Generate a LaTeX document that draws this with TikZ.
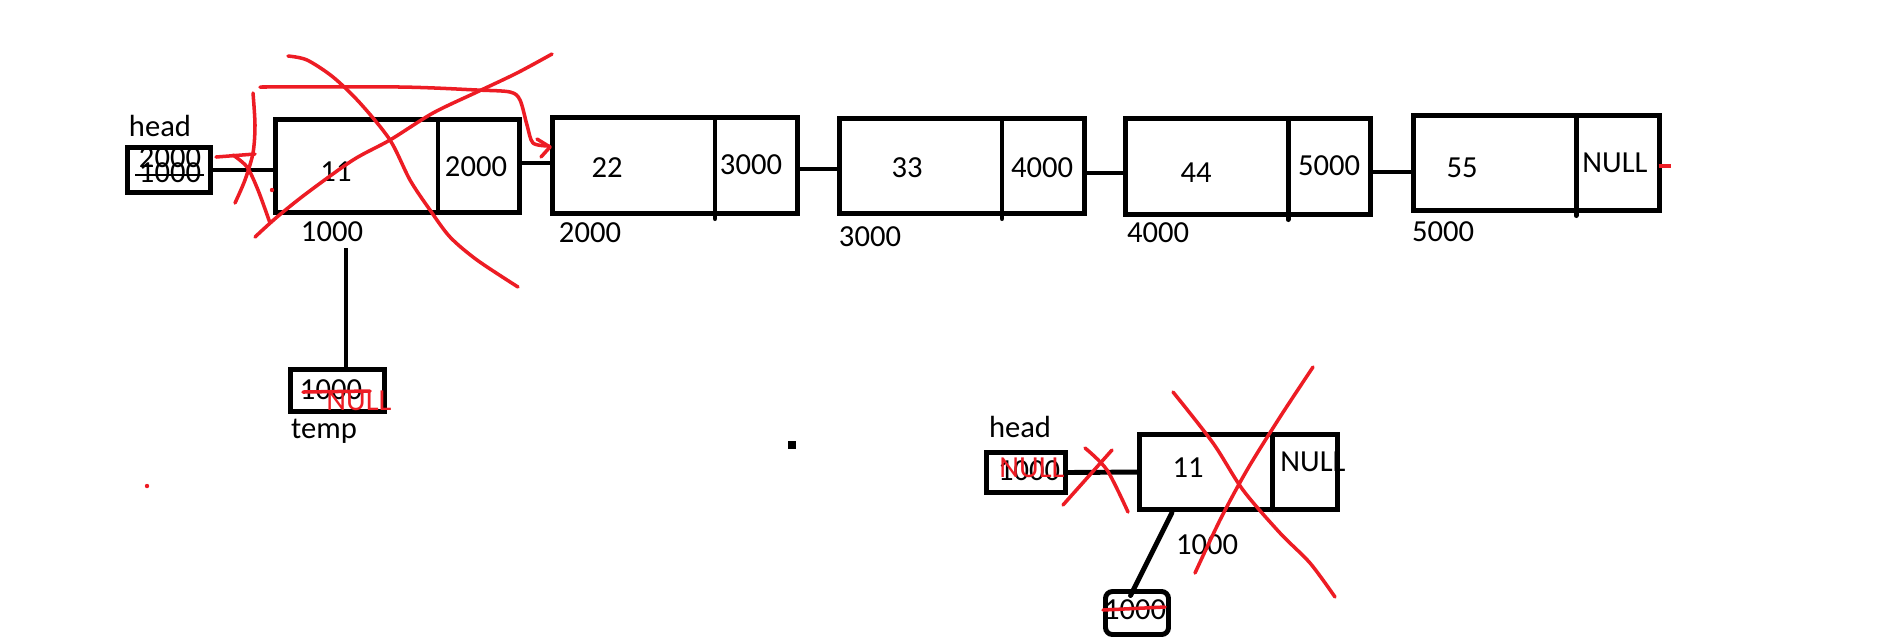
\documentclass[tikz,border=0pt]{standalone}
\usepackage{fontspec}
\setmainfont{Carlito}
\usetikzlibrary{calc}
\definecolor{penred}{RGB}{237,28,36}
\begin{document}
\begin{tikzpicture}[x=0.01cm,y=-0.01cm,
  box/.style={draw, line width=1.4pt, inner sep=0pt, outer sep=0pt},
  blk/.style={line width=1.4pt, line cap=round},
  txt/.style={font=\fontsize{8.7}{10}\selectfont, inner sep=0pt},
  rtxt/.style={txt, text=penred},
  pen/.style={draw=penred, line width=1pt, line cap=round, line join=round},
  thinstrike/.style={line width=0.7pt}]
\useasboundingbox (0,0) rectangle (1879,638);
\fill[white] (0,0) rectangle (1879,638);

% ---------- top list ----------
\node[box, minimum width=0.83cm, minimum height=0.45cm] (head1) at (169,170) {};
\node[box, minimum width=2.44cm, minimum height=0.93cm] (n1) at (397.5,166) {};
\node[box, minimum width=2.45cm, minimum height=0.96cm] (n2) at (675,165.5) {};
\node[box, minimum width=2.45cm, minimum height=0.95cm] (n3) at (962,166) {};
\node[box, minimum width=2.45cm, minimum height=0.96cm] (n4) at (1248,166.5) {};
\node[box, minimum width=2.46cm, minimum height=0.95cm] (n5) at (1536.5,163) {};
\node[box, minimum width=0.94cm, minimum height=0.42cm] (temp) at (337.5,390.5) {};

% dividers
\draw[blk] ([xshift=0.405cm]n1.north) -- ([xshift=0.405cm]n1.south);
\draw[blk] ([xshift=0.40cm]n2.north) -- ([xshift=0.40cm,yshift=-0.05cm]n2.south);
\draw[blk] ([xshift=0.40cm]n3.north) -- ([xshift=0.40cm,yshift=-0.05cm]n3.south);
\draw[blk] ([xshift=0.40cm]n4.north) -- ([xshift=0.40cm,yshift=-0.05cm]n4.south);
\draw[blk] ([xshift=0.395cm]n5.north) -- ([xshift=0.395cm,yshift=-0.05cm]n5.south);

% texts top
\node[txt] (lhead1) at (160,126) {head};
\node[txt] (h1new) at (170,158) {2000};
\node[txt] (h1old) at (170,173) {1000};
\draw[thinstrike] ([xshift=-0.03cm,yshift=-0.02cm]h1old.west) -- ([xshift=0.02cm,yshift=-0.02cm]h1old.east);
\node[txt] (d1) at (336,172) {11};
\node[txt] (p1) at (476,167) {2000};
\node[txt] (a1) at (332,232) {1000};
\node[txt] (d2) at (607,168) {22};
\node[txt] (p2) at (751,165) {3000};
\node[txt] (a2) at (590,233) {2000};
\node[txt] (d3) at (907,168) {33};
\node[txt] (p3) at (1042,168) {4000};
\node[txt] (a3) at (870,237) {3000};
\node[txt] (d4) at (1196,173) {44};
\node[txt] (p4) at (1329,166) {5000};
\node[txt] (a4) at (1158,233) {4000};
\node[txt] (d5) at (1462,168) {55};
\node[txt] (p5) at (1615,163) {NULL};
\node[txt] (a5) at (1443,232) {5000};
\node[txt] (tnum) at (331,390) {1000};
\node[rtxt] (tnull) at (359,401) {NULL};
\node[txt] (ltemp) at (324,431) {temp};

% connectors top
\draw[blk] (head1.east) -- (head1.east -| n1.west);
\draw[blk] ([yshift=0.03cm]n1.east) -- ([yshift=0.03cm]n1.east -| n2.west);
\draw[blk] ([yshift=-0.035cm]n2.east) -- ([yshift=-0.035cm]n2.east -| n3.west);
\draw[blk] ([yshift=-0.07cm]n3.east) -- ([yshift=-0.07cm]n3.east -| n4.west);
\draw[blk] ([yshift=-0.055cm]n4.east) -- ([yshift=-0.055cm]n4.east -| n5.west);
\coordinate (vtop) at ([yshift=-0.05cm]a1.south -| temp.north);
\draw[blk, line cap=butt] ([xshift=0.085cm]temp.north) -- ([xshift=0.085cm]vtop);

% red marks top
\draw[pen] (303,392) -- (370,391);
\draw[pen] (216,157) -- (255,154);
\draw[pen] plot[smooth] coordinates {(253,93) (255,125) (253,153) (245,180) (235,203)};
\draw[pen] plot[smooth] coordinates {(233,155) (247,167) (258,190) (270,223)};
\draw[pen] plot[smooth] coordinates {(260,87) (400,87) (477,90) (510,92) (520,100) (527,125) (533,143) (549,146)};
\draw[pen] (537,139) -- (550,147) -- (541,157);
\draw[pen] plot[smooth] coordinates {(288,56) (307,60) (333,77) (360,103) (390,140) (410,180) (430,210) (450,237) (477,260) (518,287)};
\draw[pen] plot[smooth] coordinates {(255,237) (277,217) (307,193) (353,160) (390,140) (433,113) (477,92) (517,73) (552,54)};
\fill[penred] (272,190) circle (2.2);
\draw[pen, line width=1.3pt, line cap=butt] ([xshift=-0.01cm,yshift=-0.03cm]n5.east) -- ++(0.12cm,0);
\fill[penred] (147,486) circle (2.2);
\fill[black] (788,441) rectangle (796,449);

% ---------- bottom ----------
\node[box, minimum width=0.79cm, minimum height=0.40cm] (head2) at (1026,472.5) {};
\node[box, minimum width=1.98cm, minimum height=0.75cm] (n6) at (1238.5,472) {};
\node[box, rounded corners=0.07cm, minimum width=0.63cm, minimum height=0.43cm] (rbox) at (1137,613) {};
\draw[blk] ([xshift=0.335cm]n6.north) -- ([xshift=0.335cm]n6.south);

\node[txt] (lhead2) at (1020,427) {head};
\node[txt] (h2old) at (1029,471) {1000};
\node[rtxt] (h2new) at (1032,468) {NULL};
\node[txt] (d6) at (1188,468) {11};
\node[txt] (p6) at (1313,462) {NULL};
\node[txt] (a6) at (1207,545) {1000};
\node[txt] (rnum) at (1135,610) {1000};

\draw[blk] (head2.east) -- (n6.west);
\draw[blk] ([xshift=-0.665cm,yshift=-0.03cm]n6.south) -- ([xshift=-0.065cm,yshift=-0.04cm]rbox.north);

\draw[pen] (1103,610) -- (1165,607);
\draw[pen] (1063,505) -- (1112,450);
\draw[pen] plot[smooth] coordinates {(1085,448) (1107,470) (1128,512)};
\draw[pen] plot[smooth] coordinates {(1173,392) (1213,443) (1243,490) (1280,533) (1310,563) (1335,597)};
\draw[pen] plot[smooth] coordinates {(1313,367) (1280,417) (1247,470) (1220,520) (1195,573)};
\end{tikzpicture}
\end{document}
